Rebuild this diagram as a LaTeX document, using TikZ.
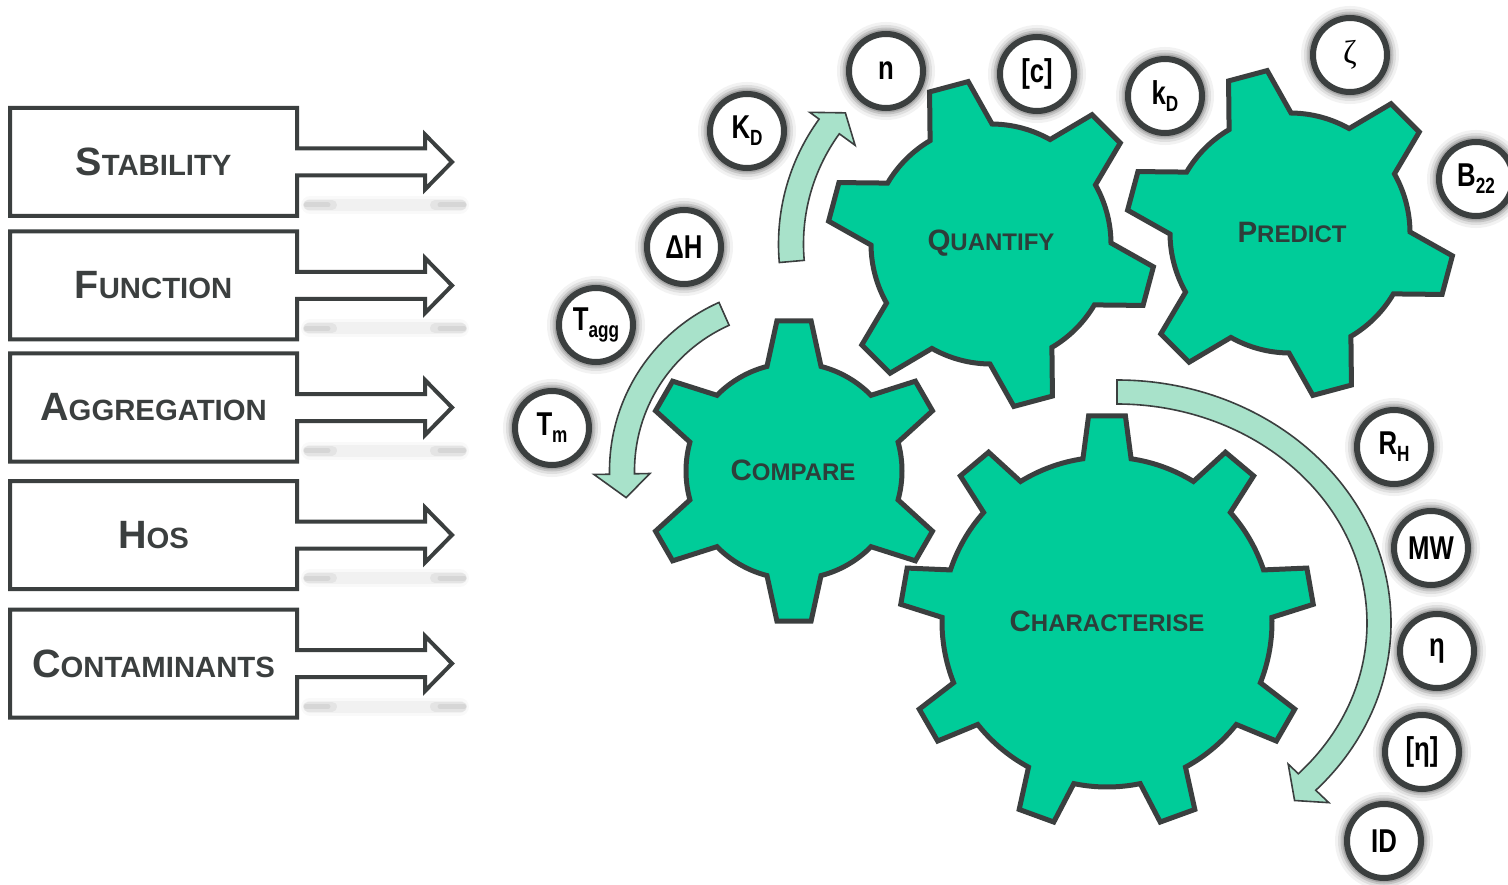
\documentclass[tikz,border=0pt]{standalone}
\usepackage{fontspec}
\setmainfont{Liberation Sans}
\newfontfamily\cnd[FakeStretch=0.78]{Liberation Sans}
\newfontfamily\zetafont{Liberation Serif}
\definecolor{dk}{RGB}{59,63,63}
\definecolor{gearg}{RGB}{0,204,153}
\definecolor{arrg}{RGB}{168,226,202}
\definecolor{gtxt}{RGB}{45,62,58}
\newcommand\BigSC[2]{{\fontsize{39.5}{39.5}\selectfont #1}{\fontsize{29.3}{29.3}\selectfont #2}}
\newcommand\GearSC[2]{{\fontsize{29.5}{29.5}\selectfont #1}{\fontsize{24}{24}\selectfont #2}}
\newcommand\sbs[1]{\raisebox{-7pt}{\fontsize{22}{22}\selectfont #1}}
\tikzset{
 boxsty/.style={draw=dk, line width=4pt, fill=white, line join=miter},
 boxlabel/.style={font=\bfseries, text=dk, inner sep=0pt},
 gearsty/.style={draw=dk, line width=5pt, fill=gearg, line join=miter},
 gearlabel/.style={font=\bfseries, text=gtxt, inner sep=0pt},
 arrsty/.style={draw=dk, line width=1.6pt, fill=arrg, line join=miter},
 shadowsty/.style={draw=black, line cap=round},
 bubble/.style={circle, draw=dk, line width=6pt, fill=white, minimum size=74pt,
   inner sep=0pt, text=black, font=\cnd\bfseries\fontsize{33}{33}\selectfont,
   preaction={draw=black, draw opacity=0.05, line width=24pt},
   preaction={draw=black, draw opacity=0.08, line width=18pt},
   preaction={draw=black, draw opacity=0.12, line width=13pt},
   preaction={draw=black, draw opacity=0.15, line width=9pt}},
}
% box with arrow: #1 name, #2 centre y (pixels), #3 label
\newcommand\boxarrow[3]{%
 \begin{scope}[shift={(0,-#2)}]
  \draw[shadowsty, line width=18pt, draw opacity=0.025] (310,-43) -- (460,-43);
  \draw[shadowsty, line width=12pt, draw opacity=0.03] (310,-43) -- (460,-43);
  \draw[shadowsty, line width=10pt, draw opacity=0.05] (308,-43) -- (332,-43);
  \draw[shadowsty, line width=10pt, draw opacity=0.05] (435,-43) -- (462,-43);
  \draw[shadowsty, line width=5pt, draw opacity=0.06] (306,-43) -- (328,-43);
  \draw[shadowsty, line width=5pt, draw opacity=0.06] (440,-43) -- (464,-43);
  \draw[boxsty] (10,54) -- (297,54) -- (297,13.5) -- (425,13.5) -- (425,27.5)
    -- (452,0) -- (425,-27.5) -- (425,-13.5) -- (297,-13.5) -- (297,-54)
    -- (10,-54) -- cycle;
  \node[boxlabel] (#1) at (153.5,0) {#3};
 \end{scope}}
% gear: cx cy n theta0 rbody Router alpha_base alpha_tip
\newcommand\gear[8]{%
 \begin{scope}[shift={(#1,#2)}]
  \draw[gearsty] ({#4-#7}:#5pt)
   \foreach \k in {1,...,#3}{
     -- ({#4+(\k-1)*360/#3-#8}:#6pt) -- ({#4+(\k-1)*360/#3+#8}:#6pt)
     -- ({#4+(\k-1)*360/#3+#7}:#5pt)
     arc[start angle={#4+(\k-1)*360/#3+#7}, delta angle={360/#3-2*#7}, radius=#5pt]
   } -- cycle;
 \end{scope}}
\begin{document}
\begin{tikzpicture}[x=1pt,y=1pt]
\useasboundingbox (0,0) rectangle (1508,-885);
\fill[white] (0,0) rectangle (1508,-885);

% left boxes
\boxarrow{stab}{162}{\BigSC{S}{TABILITY}}
\boxarrow{func}{285.5}{\BigSC{F}{UNCTION}}
\boxarrow{aggr}{407.5}{\BigSC{A}{GGREGATION}}
\boxarrow{hos}{535}{\BigSC{H}{OS}}
\boxarrow{cont}{663.5}{\BigSC{C}{ONTAMINANTS}}

% gears
\gear{794}{-471}{6}{30}{108}{151}{14.5}{6.5}
\gear{991}{-244}{6}{-15}{120}{164}{15.5}{7}
\gear{1290}{-233}{6}{-15}{120}{164}{15.5}{7}
\gear{1107}{-622}{9}{10}{165}{207}{8.4}{5.1}

\node[gearlabel] (compare) at (793,-470) {\GearSC{C}{OMPARE}};
\node[gearlabel] (quantify) at (991,-243) {\GearSC{Q}{UANTIFY}};
\node[gearlabel] (predict) at (1292,-232) {\GearSC{P}{REDICT}};
\node[gearlabel] (charact) at (1107,-621) {\GearSC{C}{HARACTERISE}};

% curved arrows
\begin{scope}[shift={(991,-244)}]
 \draw[arrsty] (185:212.5pt) arc[start angle=185, end angle=144, radius=212.5pt]
   -- (144:224pt) -- (138:196pt) -- (144:168pt) -- (144:187.5pt)
   arc[start angle=144, end angle=185, radius=187.5pt] -- cycle;
\end{scope}
\begin{scope}[shift={(794,-471)}]
 \draw[arrsty] (114:184.5pt) arc[start angle=114, end angle=181, radius=184.5pt]
   -- (181:200pt) -- (189:170pt) -- (181:144pt) -- (181:159.5pt)
   arc[start angle=181, end angle=114, radius=159.5pt] -- cycle;
\end{scope}
\begin{scope}[shift={(1117,-623)}]
 \draw[arrsty] (90:274pt and 243pt)
   arc[start angle=90, end angle=-43.5, x radius=274pt, y radius=243pt]
   -- (-43.5:292pt and 261pt) -- (-48.5:268pt and 237pt) -- (-43.5:236pt and 205pt)
   -- (-43.5:250pt and 219pt)
   arc[start angle=-43.5, end angle=90, x radius=250pt, y radius=219pt] -- cycle;
\end{scope}

% bubbles
\node[bubble] (kd) at (747,-131) {K\sbs{D}};
\node[bubble] (n) at (886,-71) {n};
\node[bubble] (c) at (1037,-74) {[c]};
\node[bubble] (kdl) at (1165,-96) {k\sbs{D}};
\node[bubble] (zeta) at (1350,-55) {{\zetafont\mdseries ζ}};
\node[bubble] (b22) at (1476,-179) {B\sbs{22}};
\node[bubble] (dh) at (684,-247) {ΔH};
\node[bubble] (tagg) at (596,-325) {T\sbs{agg}};
\node[bubble] (tm) at (552,-428) {T\sbs{m}};
\node[bubble] (rh) at (1394,-447) {R\sbs{H}};
\node[bubble] (mw) at (1431,-548) {MW};
\node[bubble] (eta) at (1437,-651) {η};
\node[bubble] (ieta) at (1422,-752) {[η]};
\node[bubble] (id) at (1384,-841) {ID};
\end{tikzpicture}
\end{document}
